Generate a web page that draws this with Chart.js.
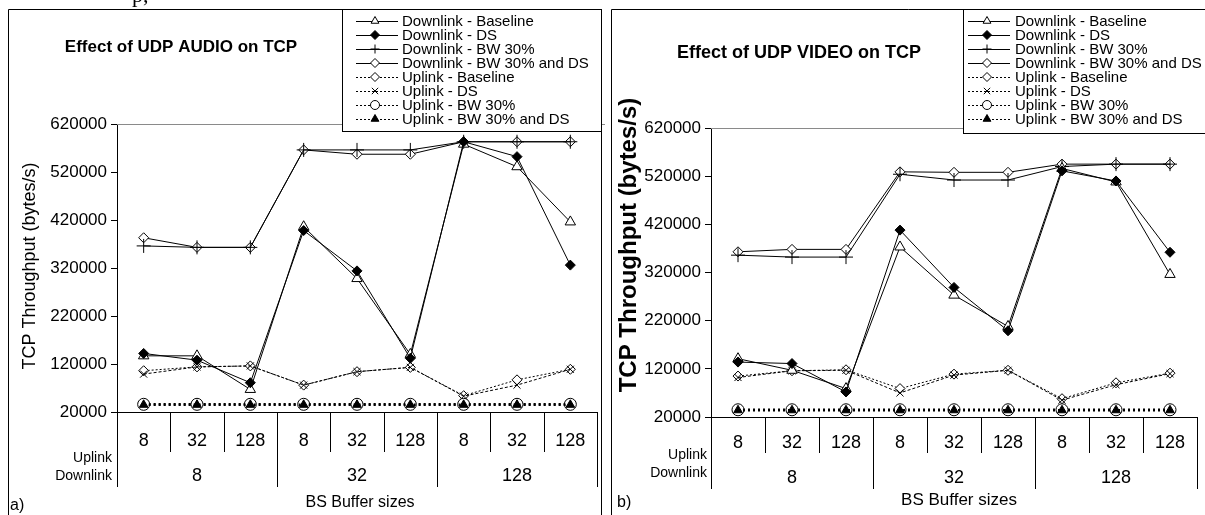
<!DOCTYPE html>
<html>
<head>
<meta charset="utf-8">
<script src="https://cdn.jsdelivr.net/npm/chart.js@4.4.1/dist/chart.umd.min.js"></script>
<style>
  html, body { margin: 0; padding: 0; background: #fff; }
  #wrap { position: relative; width: 1205px; height: 515px; overflow: hidden; }
  canvas { position: absolute; top: 0; }
  #audioChart { left: 0; }
  #videoChart { left: 605px; }
</style>
</head>
<body>
<div id="wrap">
  <canvas id="audioChart" width="605" height="515"></canvas>
  <canvas id="videoChart" width="600" height="515"></canvas>
</div>
<script>
// categories: uplink buffer size, grouped by downlink buffer size
const uplinkSizes = ["8", "32", "128", "8", "32", "128", "8", "32", "128"];
const downlinkSizes = ["8", "32", "128"];
const seriesNames = [
  "Downlink - Baseline", "Downlink - DS", "Downlink - BW 30%", "Downlink - BW 30% and DS",
  "Uplink - Baseline", "Uplink - DS", "Uplink - BW 30%", "Uplink - BW 30% and DS"
];
const yMin = 20000, yMax = 620000, yStep = 100000;

// a) UDP audio
const audioDownBaseline = [137000, 137000, 67000, 406000, 298000, 140000, 578000, 531000, 416000];
const audioDownDS       = [142000, 128000, 81000, 398000, 314000, 132000, 583000, 552000, 326000];
const audioDownBW       = [366000, 363000, 363000, 566000, 566000, 566000, 583000, 583000, 583000];
const audioDownBWDS     = [383000, 363000, 363000, 566000, 557000, 557000, 583000, 583000, 583000];
const audioUpBaseline   = [106000, 114000, 116000, 76000, 104000, 113000, 54000, 87000, 109000];
const audioUpDS         = [99000, 114000, 116000, 76000, 104000, 113000, 53000, 76000, 109000];
const audioUpBW         = [36000, 36000, 36000, 36000, 36000, 36000, 36000, 36000, 36000];
const audioUpBWDS       = [35000, 35000, 35000, 35000, 35000, 35000, 35000, 35000, 35000];

// b) UDP video
const videoDownBaseline = [141000, 117000, 79000, 373000, 273000, 208000, 536000, 508000, 316000];
const videoDownDS       = [134000, 131000, 72000, 408000, 289000, 199000, 531000, 510000, 362000];
const videoDownBW       = [356000, 352000, 352000, 524000, 512000, 512000, 540000, 545000, 545000];
const videoDownBWDS     = [363000, 368000, 368000, 529000, 528000, 528000, 545000, 545000, 545000];
const videoUpBaseline   = [105000, 116000, 118000, 79000, 109000, 117000, 58000, 91000, 111000];
const videoUpDS         = [102000, 116000, 117000, 70000, 107000, 117000, 55000, 87000, 110000];
const videoUpBW         = [35000, 35000, 35000, 35000, 35000, 35000, 35000, 35000, 35000];
const videoUpBWDS       = [34000, 34000, 34000, 34000, 34000, 34000, 34000, 34000, 34000];

const family = '"Liberation Sans", Arial, Helvetica, sans-serif';

// look of each series (same order as seriesNames)
const looks = [
  { pointStyle: "triangle", pointRadius: 6, fill: "#fff", dash: [], width: 1, order: 3 },
  { pointStyle: "rectRot", pointRadius: 5, fill: "#000", dash: [], width: 1, order: 2 },
  { pointStyle: "cross", pointRadius: 7, fill: "#fff", dash: [], width: 1, order: 4 },
  { pointStyle: "rectRot", pointRadius: 5, fill: "#fff", dash: [], width: 1, order: 5 },
  { pointStyle: "rectRot", pointRadius: 5, fill: "#fff", dash: [2, 2], width: 1, order: 7 },
  { pointStyle: "crossRot", pointRadius: 5, fill: "#fff", dash: [3, 2], width: 1, order: 6 },
  { pointStyle: "circle", pointRadius: 6, fill: "#fff", dash: [2, 3], width: 2.5, order: 1 },
  { pointStyle: "triangle", pointRadius: 5, fill: "#000", dash: [2, 3], width: 2.5, order: 0 }
];

function hline(ctx, x1, y1, x2, y2) {
  ctx.beginPath(); ctx.moveTo(x1, y1); ctx.lineTo(x2, y2); ctx.stroke();
}

function marker(ctx, look, x, y, r) {
  ctx.fillStyle = look.fill;
  ctx.strokeStyle = "#000";
  ctx.lineWidth = 1;
  ctx.setLineDash([]);
  Chart.helpers.drawPoint(ctx, { pointStyle: look.pointStyle, radius: r, rotation: 0, borderWidth: 1 }, x, y);
}

// frame, titles, legend and the two-row category table
const decor = {
  id: "decor",
  afterDraw(chart) {
    const p = chart.options.plugins.decor;
    const ctx = chart.ctx;
    const xs = chart.scales.x, ys = chart.scales.y;
    ctx.save();
    ctx.fillStyle = "#000";
    ctx.strokeStyle = "#000";
    ctx.lineWidth = 1;

    // gray top border of plot area
    ctx.strokeStyle = "#8a8a8a";
    hline(ctx, xs.left, Math.round(ys.top) + 0.5, chart.width, Math.round(ys.top) + 0.5);

    // separators below x axis
    ctx.strokeStyle = "#000";
    const n = uplinkSizes.length, slot = xs.width / n;
    for (let i = 0; i <= n; i++) {
      const x = Math.round(xs.left + i * slot) + 0.5;
      hline(ctx, x, ys.bottom, x, i % 3 === 0 ? p.groupSepBottom : p.sepBottom);
    }

    // downlink group labels
    ctx.font = p.tickFont;
    ctx.textAlign = "center";
    ctx.textBaseline = "middle";
    downlinkSizes.forEach((s, g) => ctx.fillText(s, xs.getPixelForValue(g * 3 + 1), p.groupY));

    ctx.font = "14px " + family;
    ctx.textAlign = "right";
    ctx.fillText("Uplink", p.rowLabelX, p.uplinkY);
    ctx.fillText("Downlink", p.rowLabelX, p.downlinkY);

    ctx.font = p.xTitleFont;
    ctx.textAlign = "center";
    ctx.fillText("BS Buffer sizes", p.xTitleX, p.xTitleY);

    ctx.font = "16px " + family;
    ctx.textAlign = "left";
    ctx.fillText(p.letter, p.letterX, p.letterY);

    // y title
    ctx.save();
    ctx.translate(p.yTitleX, p.yTitleY);
    ctx.rotate(-Math.PI / 2);
    ctx.font = p.yTitleFont;
    ctx.textAlign = "center";
    ctx.fillText("TCP Throughput (bytes/s)", 0, 0);
    ctx.restore();

    // chart title
    ctx.font = p.titleFont;
    ctx.textAlign = "center";
    ctx.fillText(p.title, p.titleX, p.titleY);

    // frame
    ctx.strokeStyle = "#000";
    ctx.beginPath();
    ctx.moveTo(p.frameLeft, chart.height);
    ctx.lineTo(p.frameLeft, p.frameTop);
    ctx.lineTo(p.frameRight, p.frameTop);
    if (p.closeRight) ctx.lineTo(p.frameRight, chart.height);
    ctx.stroke();

    // legend
    const L = p.legend;
    ctx.fillStyle = "#fff";
    ctx.fillRect(L.left, L.top, L.right - L.left, L.bottom - L.top);
    ctx.strokeStyle = "#000";
    ctx.strokeRect(L.left, L.top, L.right - L.left, L.bottom - L.top);
    ctx.font = "15px " + family;
    ctx.textAlign = "left";
    ctx.textBaseline = "middle";
    seriesNames.forEach((name, i) => {
      const y = L.rowY + i * L.rowH;
      const look = looks[i];
      ctx.strokeStyle = "#000";
      ctx.lineWidth = 1;
      ctx.setLineDash(look.dash.length ? [2, 2] : []);
      hline(ctx, L.lineX1, Math.round(y) + 0.5, L.lineX2, Math.round(y) + 0.5);
      marker(ctx, look, L.markX, y, 4.5);
      ctx.fillStyle = "#000";
      ctx.fillText(name, L.textX, y + 1);
    });

    if (p.fragment) {
      ctx.font = '22px "Liberation Serif", serif';
      ctx.textAlign = "left";
      ctx.textBaseline = "alphabetic";
      ctx.fillStyle = "#000";
      ctx.fillText("p,", 132, 2);
    }
    ctx.restore();
  }
};

function makeChart(id, p, series) {
  const canvas = document.getElementById(id);
  const W = canvas.width, H = canvas.height;
  const datasets = series.map((data, i) => {
    const k = looks[i];
    return {
      label: seriesNames[i],
      data: data,
      borderColor: "#000",
      borderWidth: k.width,
      borderDash: k.dash,
      pointStyle: k.pointStyle,
      pointRadius: k.pointRadius,
      pointBackgroundColor: k.fill,
      pointBorderColor: "#000",
      pointBorderWidth: 1,
      tension: 0,
      order: k.order
    };
  });
  return new Chart(canvas, {
    type: "line",
    data: { labels: uplinkSizes, datasets: datasets },
    options: {
      responsive: false,
      animation: false,
      devicePixelRatio: 1,
      layout: { padding: { left: 0, top: p.plotTop, right: W - p.plotRight, bottom: 0 } },
      plugins: { legend: { display: false }, tooltip: { enabled: false }, decor: p },
      scales: {
        x: {
          offset: true,
          grid: { display: false, drawTicks: false },
          border: { color: "#000", width: 1 },
          ticks: { font: { family: family, size: 18 }, color: "#000", padding: p.xTickPad, autoSkip: false, maxRotation: 0 },
          afterFit: s => { s.height = H - p.plotBottom; }
        },
        y: {
          min: yMin, max: yMax,
          grid: { drawOnChartArea: false, color: "#000", tickLength: 6 },
          border: { color: "#000", width: 1 },
          ticks: { stepSize: yStep, callback: v => String(v), font: { family: family, size: 17 }, color: "#000", padding: 4 },
          afterFit: s => { s.width = p.plotLeft; }
        }
      }
    },
    plugins: [decor]
  });
}

makeChart("audioChart", {
  title: "Effect of UDP AUDIO on TCP", titleFont: "bold 17px " + family, titleX: 181, titleY: 47,
  frameLeft: 8.5, frameTop: 9.5, frameRight: 601.5, closeRight: true,
  legend: { left: 342.5, top: 9.5, right: 601.5, bottom: 131.5, lineX1: 356, lineX2: 398, markX: 375, textX: 402, rowY: 21, rowH: 14 },
  plotLeft: 117, plotRight: 603, plotTop: 124, plotBottom: 412,
  xTickPad: 18, sepBottom: 452, groupSepBottom: 487, groupY: 476,
  rowLabelX: 112, uplinkY: 458, downlinkY: 476,
  xTitleFont: "16px " + family, xTitleX: 360, xTitleY: 503,
  yTitleFont: "18px " + family, yTitleX: 30, yTitleY: 266,
  letter: "a)", letterX: 10, letterY: 506, tickFont: "18px " + family, fragment: true
}, [audioDownBaseline, audioDownDS, audioDownBW, audioDownBWDS, audioUpBaseline, audioUpDS, audioUpBW, audioUpBWDS]);

makeChart("videoChart", {
  title: "Effect of UDP VIDEO on TCP", titleFont: "bold 18px " + family, titleX: 194, titleY: 53,
  frameLeft: 6.5, frameTop: 9.5, frameRight: 600, closeRight: false,
  legend: { left: 358.5, top: 9.5, right: 600.5, bottom: 133.5, lineX1: 363, lineX2: 405, markX: 382, textX: 410, rowY: 21, rowH: 14 },
  plotLeft: 106, plotRight: 600, plotTop: 128, plotBottom: 417,
  xTickPad: 15, sepBottom: 453, groupSepBottom: 489, groupY: 478,
  rowLabelX: 102, uplinkY: 455, downlinkY: 473,
  xTitleFont: "17px " + family, xTitleX: 354, xTitleY: 500,
  yTitleFont: "bold 24px " + family, yTitleX: 24, yTitleY: 245,
  letter: "b)", letterX: 12, letterY: 503, tickFont: "18px " + family, fragment: false
}, [videoDownBaseline, videoDownDS, videoDownBW, videoDownBWDS, videoUpBaseline, videoUpDS, videoUpBW, videoUpBWDS]);
</script>
</body>
</html>
